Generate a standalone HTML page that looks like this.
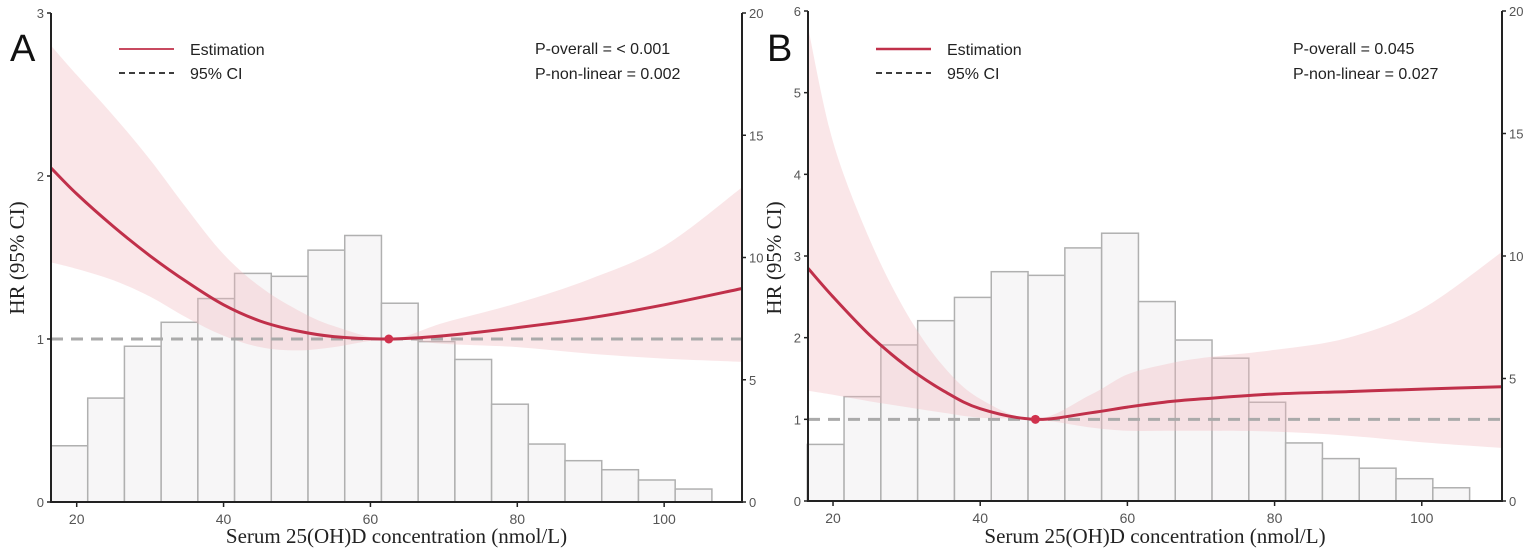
<!DOCTYPE html>
<html><head><meta charset="utf-8">
<style>
html,body{margin:0;padding:0;background:#fff;}
svg{display:block;font-family:"Liberation Sans",Arial,sans-serif;}
</style></head>
<body>
<svg id="chart" width="1535" height="549" viewBox="0 0 1535 549" xmlns="http://www.w3.org/2000/svg"></svg>
<script>
// ---- data ----
const binStarts = [16.5,21.5,26.5,31.5,36.5,41.5,46.5,51.5,56.5,61.5,66.5,71.5,76.5,81.5,86.5,91.5,96.5,101.5];
const countsA = [2.3,4.25,6.37,7.35,8.32,9.35,9.23,10.3,10.9,8.13,6.56,5.83,4.0,2.37,1.69,1.32,0.9,0.53];
const countsB = [2.31,4.26,6.37,7.36,8.31,9.36,9.21,10.33,10.93,8.14,6.57,5.83,4.03,2.37,1.73,1.34,0.91,0.54];
const curveXA = [16.5,20,25,30,35,40,45,50,55,62.5,70,80,90,100,110.6];
const hrA    = [2.05,1.89,1.69,1.51,1.35,1.21,1.11,1.05,1.015,1.0,1.02,1.07,1.13,1.21,1.31];
const upperA = [2.8,2.62,2.37,2.1,1.8,1.52,1.32,1.18,1.08,1.0,1.1,1.22,1.37,1.57,1.93];
const lowerA = [1.47,1.43,1.36,1.26,1.13,1.02,0.95,0.93,0.95,1.0,0.97,0.95,0.91,0.88,0.86];
const curveXB = [16.6,20,25,30,35,40,47.5,55,60,65,70,80,90,100,110.9];
const hrB    = [2.85,2.5,2.03,1.65,1.35,1.13,1.0,1.08,1.15,1.21,1.25,1.31,1.34,1.37,1.4];
const upperB = [5.8,4.4,3.2,2.3,1.65,1.25,1.0,1.3,1.55,1.67,1.75,1.85,2.0,2.35,3.05];
const lowerB = [1.35,1.3,1.22,1.15,1.08,1.02,1.0,0.9,0.86,0.86,0.86,0.85,0.8,0.72,0.65];
const xTicks = [20,40,60,80,100];
const yTicksA = [0,1,2,3];
const yTicksB = [0,1,2,3,4,5,6];
const rTicks = [0,5,10,15,20];
const knotA = 62.5, knotB = 47.5;

const svg = document.getElementById('chart');
const NS = 'http://www.w3.org/2000/svg';
function mk(tag, attrs, parent){const e=document.createElementNS(NS,tag);for(const k in attrs)e.setAttribute(k,attrs[k]);(parent||svg).appendChild(e);return e;}
function spline(pts){
  let d='M'+pts[0][0].toFixed(1)+','+pts[0][1].toFixed(1);
  for(let i=0;i<pts.length-1;i++){
    const p0=pts[Math.max(i-1,0)],p1=pts[i],p2=pts[i+1],p3=pts[Math.min(i+2,pts.length-1)];
    const c1=[p1[0]+(p2[0]-p0[0])/6,p1[1]+(p2[1]-p0[1])/6];
    const c2=[p2[0]-(p3[0]-p1[0])/6,p2[1]-(p3[1]-p1[1])/6];
    d+=' C'+c1[0].toFixed(1)+','+c1[1].toFixed(1)+' '+c2[0].toFixed(1)+','+c2[1].toFixed(1)+' '+p2[0].toFixed(1)+','+p2[1].toFixed(1);
  }
  return d;
}
function panel(cfg){
  const g=mk('g',{});
  
  
  const xs=v=>cfg.x0+(v-cfg.xmin)/(cfg.xmax-cfg.xmin)*(cfg.x1-cfg.x0);
  const ys=v=>cfg.yb-(v/cfg.ymax)*(cfg.yb-cfg.yt);
  const rs=v=>cfg.yb-(v/20)*(cfg.yb-cfg.yt);
  cfg.counts.forEach((c,i)=>{
    const b=mk('rect',{x:xs(binStarts[i]),y:rs(c),width:xs(binStarts[i]+5)-xs(binStarts[i]),height:cfg.yb-rs(c),fill:'#f7f6f7',stroke:'#b0b0b0','stroke-width':1.5},g);
    
    
  });
  const up=cfg.cx.map((v,i)=>[xs(v),ys(cfg.upper[i])]);
  const lo=cfg.cx.map((v,i)=>[xs(v),ys(cfg.lower[i])]).reverse();
  const band=mk('path',{d:spline(up)+' L'+spline(lo).slice(1)+' Z',fill:'#f2b6bd','fill-opacity':0.35},g);
  
  
  const ref=mk('line',{x1:cfg.x0,x2:cfg.x1,y1:ys(1),y2:ys(1),stroke:'#aaaaaa','stroke-width':3,'stroke-dasharray':'12,8'},g);
  
  
  const cur=mk('path',{d:spline(cfg.cx.map((v,i)=>[xs(v),ys(cfg.hr[i])])),fill:'none',stroke:'#c0304a','stroke-width':3},g);
  
  
  const dot=mk('circle',{cx:xs(cfg.knot),cy:ys(1),r:4.5,fill:'#d0324d'},g);
  
  
  mk('line',{x1:cfg.x0,x2:cfg.x0,y1:cfg.yt,y2:cfg.yb+1,stroke:'#222','stroke-width':2},g);
  mk('line',{x1:cfg.x1,x2:cfg.x1,y1:cfg.yt,y2:cfg.yb+1,stroke:'#222','stroke-width':2},g);
  mk('line',{x1:cfg.x0,x2:cfg.x1,y1:cfg.yb,y2:cfg.yb,stroke:'#222','stroke-width':2},g);
  cfg.yTicks.forEach(t=>{
    mk('line',{x1:cfg.x0-4,x2:cfg.x0,y1:ys(t),y2:ys(t),stroke:'#222','stroke-width':1.5},g);
    const tx=mk('text',{x:cfg.x0-7,y:ys(t)+5,'text-anchor':'end','font-size':13,fill:'#555'},g);tx.textContent=t;
    
    
  });
  rTicks.forEach(t=>{
    mk('line',{x1:cfg.x1,x2:cfg.x1+4,y1:rs(t),y2:rs(t),stroke:'#222','stroke-width':1.5},g);
    const tx=mk('text',{x:cfg.x1+7,y:rs(t)+5,'font-size':13,fill:'#555'},g);tx.textContent=t;
    
    
  });
  xTicks.forEach(t=>{
    mk('line',{x1:xs(t),x2:xs(t),y1:cfg.yb,y2:cfg.yb+5,stroke:'#222','stroke-width':1.5},g);
    const tx=mk('text',{x:xs(t),y:cfg.yb+22,'text-anchor':'middle','font-size':14,fill:'#555'},g);tx.textContent=t;
    
    
  });
  const xl=mk('text',{x:(cfg.x0+cfg.x1)/2,y:543,'text-anchor':'middle','font-size':21,'font-family':'Liberation Serif,serif',fill:'#222'},g);
  xl.textContent='Serum 25(OH)D concentration (nmol/L)';
  
  
  const yl=mk('text',{x:0,y:0,'text-anchor':'middle','font-size':21,'font-family':'Liberation Serif,serif',fill:'#222',transform:'translate('+(cfg.x0-27)+',258) rotate(-90)'},g);
  yl.textContent='HR (95% CI)';
  
  
  const pl=mk('text',{x:cfg.x0-41,y:61,'font-size':38,fill:'#111'},g);pl.textContent=cfg.letter;
  
  
  const lx=cfg.x0+68;
  mk('line',{x1:lx,x2:lx+55,y1:49,y2:49,stroke:'#c0304a','stroke-width':cfg.legW},g);
  mk('line',{x1:lx,x2:lx+55,y1:73,y2:73,stroke:'#222','stroke-width':1.8,'stroke-dasharray':'6,4'},g);
  const l1=mk('text',{x:lx+71,y:55,'font-size':16,fill:'#222'},g);l1.textContent='Estimation';
  
  
  const l2=mk('text',{x:lx+71,y:79,'font-size':16,fill:'#222'},g);l2.textContent='95% CI';
  
  
  const p1=mk('text',{x:cfg.px,y:54,'font-size':16,fill:'#222'},g);p1.textContent=cfg.p1;
  
  
  const p2=mk('text',{x:cfg.px,y:79,'font-size':16,fill:'#222'},g);p2.textContent=cfg.p2;
  
  
}
panel({name:'panel-a',letter:'A',x0:51,x1:742,xmin:16.5,xmax:110.6,yt:13,yb:502,ymax:3,yTicks:yTicksA,counts:countsA,cx:curveXA,hr:hrA,upper:upperA,lower:lowerA,knot:knotA,px:535,p1:'P-overall = < 0.001',p2:'P-non-linear = 0.002',legW:1.8});
panel({name:'panel-b',letter:'B',x0:808,x1:1502,xmin:16.6,xmax:110.9,yt:11,yb:501,ymax:6,yTicks:yTicksB,counts:countsB,cx:curveXB,hr:hrB,upper:upperB,lower:lowerB,knot:knotB,px:1293,p1:'P-overall = 0.045',p2:'P-non-linear = 0.027',legW:2.5});
</script>
</body></html>
